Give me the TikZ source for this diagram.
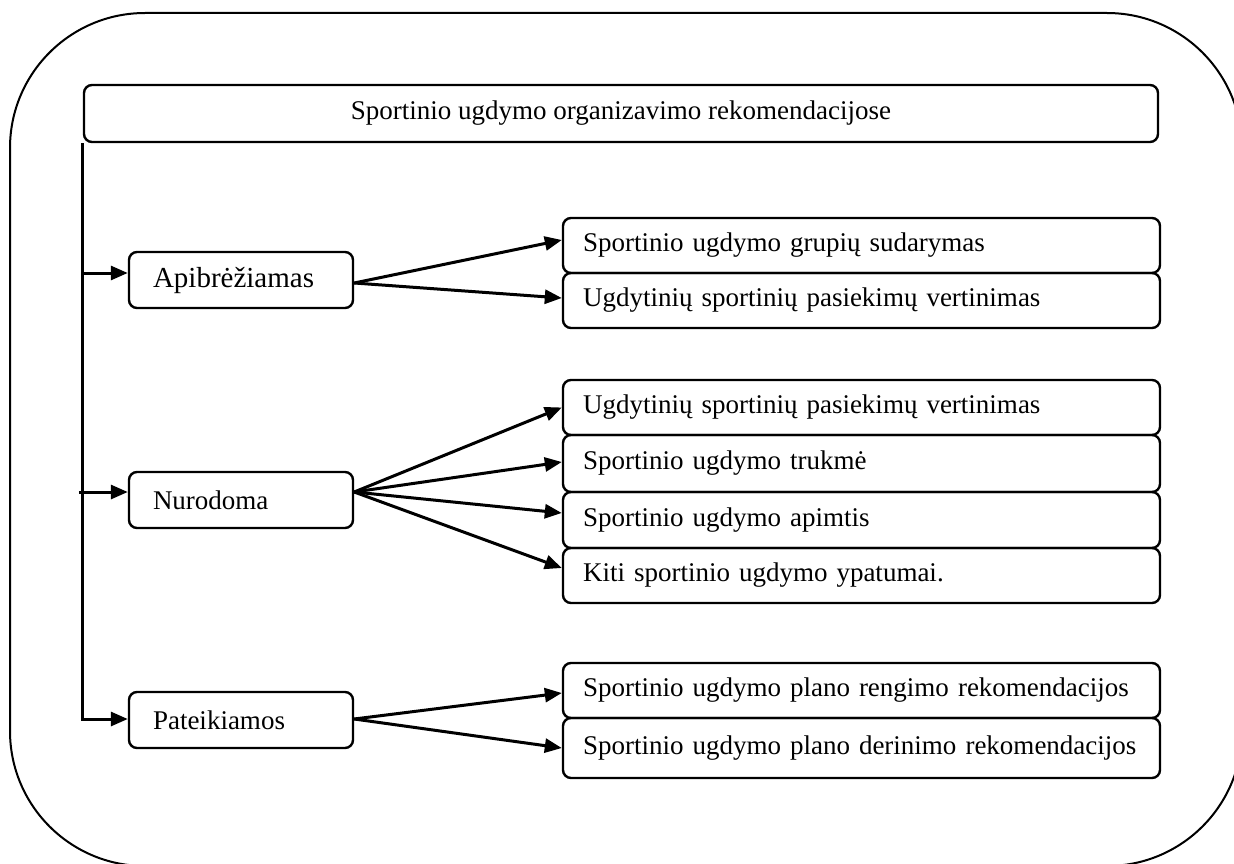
\documentclass[tikz,border=0pt]{standalone}
\usepackage{fontspec}
\setmainfont{Liberation Serif}
\usetikzlibrary{arrows.meta}
\begin{document}
\begin{tikzpicture}[x=1pt,y=-1pt,
  box/.style={draw, line width=2.4pt, rounded corners=8pt, inner ysep=0pt},
  basefont/.style={font=\fontsize{27}{30}\selectfont},
  topbox/.style={box, basefont, inner xsep=0pt, minimum width=1074pt, minimum height=57pt},
  itembox/.style={box, basefont, text width=557pt, inner xsep=20pt, align=left, minimum height=#1},
  headbox/.style={box, basefont, text width=176pt, inner xsep=24pt, align=left, minimum height=56pt},
  arr/.style={line width=3pt, -{Triangle[length=17pt,width=14pt]}},
  frame/.style={line width=2pt}]
\useasboundingbox (0,0) rectangle (1234,864);

% outer rounded frame, running past the page edge on the right and bottom
\begin{scope}
  \clip (0,0) rectangle (1234,864);
  \draw[frame, rounded corners=135pt] (10,13) rectangle (1242,866);
\end{scope}

% heading
\node[topbox] (top) at (621,113.5) {Sportinio ugdymo organizavimo rekomendacijose};

% three category boxes
\node[headbox, font=\fontsize{29}{32}\selectfont] (A) at (241,280) {\raisebox{-3pt}{Apibrėžiamas}};
\node[headbox] (N) at (241,500) {\raisebox{-2pt}{Nurodoma}};
\node[headbox] (P) at (241,720) {\raisebox{-2pt}{Pateikiamos}};

% item boxes
\node[itembox=55pt] (R1) at (861.5,245.5) {Sportinio ugdymo grupių sudarymas};
\node[itembox=55pt] (R2) at (861.5,300.5) {Ugdytinių sportinių pasiekimų vertinimas};
\node[itembox=55pt] (R3) at (861.5,407.5) {Ugdytinių sportinių pasiekimų vertinimas};
\node[itembox=57pt] (R4) at (861.5,463.5) {Sportinio ugdymo trukmė};
\node[itembox=56pt] (R5) at (861.5,520) {Sportinio ugdymo apimtis};
\node[itembox=55pt] (R6) at (861.5,575.5) {Kiti sportinio ugdymo ypatumai.};
\node[itembox=55pt] (R7) at (861.5,690.5) {Sportinio ugdymo plano rengimo rekomendacijos};
\node[itembox=60pt] (R8) at (861.5,748) {Sportinio ugdymo plano derinimo rekomendacijos};

% trunk from the heading to the category boxes
\draw[arr] (top.south west) |- ([yshift=1pt]P.west);
\draw[arr] ([yshift=7pt]A.west -| top.south west) -- ([yshift=7pt]A.west);
\draw[arr] ([yshift=8pt,xshift=-4pt]N.west -| top.south west) -- ([yshift=8pt]N.west);

% fan-out arrows
\draw[arr] ([yshift=-3pt]A.east) -- ([yshift=5.5pt]R1.west);
\draw[arr] ([yshift=-3pt]A.east) -- ([yshift=2.5pt]R2.west);

\draw[arr] ([yshift=8pt]N.east) -- (R3.west);
\draw[arr] ([yshift=8pt]N.east) -- ([yshift=1.5pt]R4.west);
\draw[arr] ([yshift=8pt]N.east) -- ([yshift=7pt]R5.west);
\draw[arr] ([yshift=8pt]N.east) -- ([yshift=7.5pt]R6.west);

\draw[arr] ([yshift=1pt]P.east) -- ([yshift=-2.5pt]R7.west);
\draw[arr] ([yshift=1pt]P.east) -- (R8.west);
\end{tikzpicture}
\end{document}
